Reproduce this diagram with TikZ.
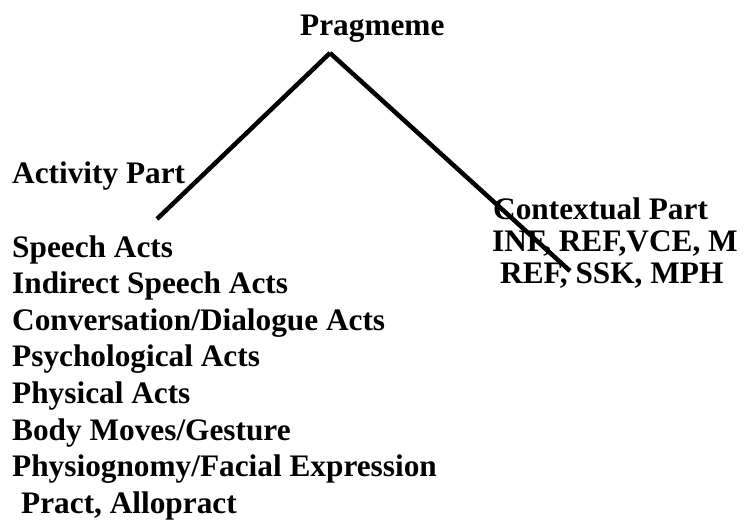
\documentclass[tikz,border=0pt]{standalone}
\usepackage{fontspec}
\setmainfont{Liberation Serif}
\tikzset{lbl/.style={anchor=base west,inner sep=0pt,font=\fontsize{31.3}{36}\selectfont\bfseries}}

\begin{document}
\begin{tikzpicture}[x=1pt,y=-1pt]
  \useasboundingbox (0,0) rectangle (749,519);
  \node[lbl] (pragmeme) at (300,36) {Pragmeme};
  \node[lbl] (activity) at (12,183) {Activity Part};
  \node[lbl] (context) at (493,219) {Contextual Part};
  \node[lbl] (ctx1) at (492,251) {INF, REF,VCE, M};
  \node[lbl] (ctx2) at (500,283) {REF, SSK, MPH};
  \foreach \n/\t in {0/{Speech Acts},1/{Indirect Speech Acts},2/{Conversation/Dialogue Acts},
      3/{Psychological Acts},4/{Physical Acts},5/{Body Moves/Gesture},6/{Physiognomy/Facial Expression}} {
    \node[lbl] (act\n) at (12,{257+36.6*\n}) {\t};
  }
  \node[lbl] (act7) at (21,513.5) {Pract, Allopract};
  \coordinate (apex) at (330,53);
  \coordinate (actend) at (157,219);
  \coordinate (ctxend) at (570,271);
  \draw[line width=4.5pt] (apex) -- (actend);
  \draw[line width=4.5pt] (apex) -- (ctxend);
\end{tikzpicture}
\end{document}
